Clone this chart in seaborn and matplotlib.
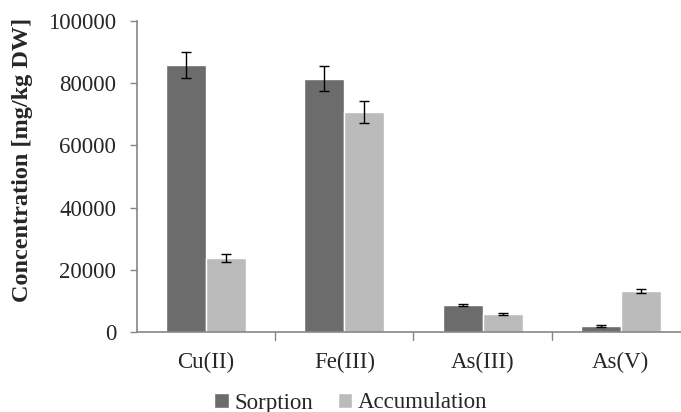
import matplotlib
matplotlib.use("Agg")
import matplotlib.pyplot as plt
import seaborn as sns
import pandas as pd
import numpy as np
from matplotlib.patches import Patch
from matplotlib.font_manager import FontProperties

categories = ["Cu(II)", "Fe(III)", "As(III)", "As(V)"]
series = ["Sorption", "Accumulation"]
sorption = [85900, 81400, 8700, 1900]
sorption_err = [4200, 4000, 400, 200]
accumulation = [23800, 70700, 5800, 13200]
accumulation_err = [1200, 3500, 300, 600]
yticks = [0, 20000, 40000, 60000, 80000, 100000]

rows = []
for c, v in zip(categories, sorption):
    rows.append({"cat": c, "series": "Sorption", "val": v})
for c, v in zip(categories, accumulation):
    rows.append({"cat": c, "series": "Accumulation", "val": v})
df = pd.DataFrame(rows)

sns.set_style("white")
plt.rcParams["font.family"] = ["Liberation Serif", "DejaVu Serif"]
plt.rcParams["font.serif"] = ["Liberation Serif", "DejaVu Serif"]

FS = 16.5
fig = plt.figure(figsize=(6.81, 4.12), dpi=100)
ax = fig.add_axes([137/681, 1-332/412, 553/681, 311/412])

colors = {"Sorption": "#6c6c6c", "Accumulation": "#bbbbbb"}
sns.barplot(data=df, x="cat", y="val", hue="series", hue_order=series,
            order=categories, palette=colors, errorbar=None, width=0.58,
            saturation=1, ax=ax, legend=False)

errs = {"Sorption": sorption_err, "Accumulation": accumulation_err}
vals = {"Sorption": sorption, "Accumulation": accumulation}
for cont, s in zip(ax.containers, series):
    xs = [p.get_x() + p.get_width()/2 for p in cont.patches]
    ax.errorbar(xs, vals[s], yerr=errs[s], fmt="none", ecolor="black",
                elinewidth=1, capsize=3.5, capthick=1)

ax.set_xlim(-0.5, 3.5)
ax.set_ylim(0, 100000)
ax.set_yticks(yticks)
ax.set_yticklabels([str(t) for t in yticks], fontsize=FS)
ax.set_xticks([0, 1, 2, 3])
ax.set_xticklabels(categories, fontsize=FS)
ax.tick_params(axis="x", length=0, pad=14)
ax.tick_params(axis="y", length=5, color="#868686", width=1, direction="out", left=True, pad=10)
for b in [0.5, 1.5, 2.5]:
    ax.plot([b, b], [0, -0.025], transform=ax.get_xaxis_transform(), color="#868686",
            lw=1, clip_on=False)
ax.set_xlabel("")
ax.set_ylabel("Concentration [mg/kg DW]", fontsize=17.5, fontweight="bold")
ax.yaxis.set_label_coords(-104/553, (332-160)/311)
for sp in ["top", "right"]:
    ax.spines[sp].set_visible(False)
for sp in ["left", "bottom"]:
    ax.spines[sp].set_color("#868686")
    ax.spines[sp].set_linewidth(1.2)

handles = [Patch(facecolor=colors[s], label=s) for s in series]
fp = FontProperties(family="Liberation Serif", size=FS)
fig.legend(handles=handles, loc="center", bbox_to_anchor=(351/681, 1-403/412), ncol=2,
           frameon=False, prop=fp,
           handlelength=0.62, handleheight=0.62,
           handletextpad=0.25, columnspacing=1.1, borderpad=0)

fig.savefig("out.png", dpi=100)
